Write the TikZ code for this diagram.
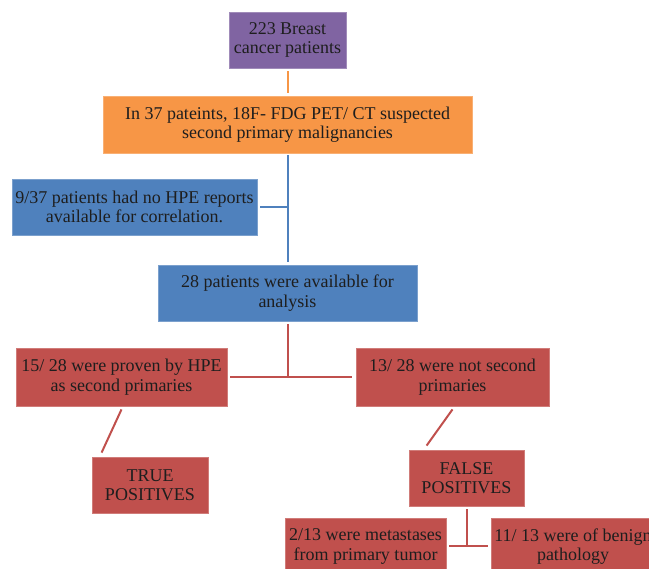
\documentclass[tikz,border=0pt]{standalone}
\usepackage{fontspec}
\setmainfont{Liberation Serif}
\newfontfamily\boxfont{Liberation Serif}
\definecolor{cpurple}{HTML}{8064A2}
\definecolor{corange}{HTML}{F79646}
\definecolor{cblue}{HTML}{4F81BD}
\definecolor{cred}{HTML}{C0504D}
\definecolor{ctext}{HTML}{1E1E1E}
\begin{document}
\begin{tikzpicture}[x=1pt,y=-1pt,
  box/.style={rectangle, inner sep=0pt, align=center, text=ctext, line width=0.8pt,
    font=\boxfont\fontsize{18}{19.5}\selectfont},
  pbox/.style={box, fill=cpurple, draw=cpurple!75!white},
  obox/.style={box, fill=corange, draw=corange!75!white},
  bbox/.style={box, fill=cblue, draw=cblue!75!white},
  rbox/.style={box, fill=cred, draw=cred!75!white},
  conn/.style={line width=2pt}]
\useasboundingbox (0,0) rectangle (649,569);
\clip (0,0) rectangle (649,569);
\node[pbox, minimum width=117pt, minimum height=56pt] (n1) at (287.5,40) {223 Breast\\cancer patients};
\node[obox, minimum width=369pt, minimum height=57pt] (n2) at (287.5,124.5) {In 37 pateints, 18F- FDG PET/ CT suspected\\second primary malignancies};
\node[bbox, minimum width=245pt, minimum height=56pt] (n3) at (134.5,207) {9/37 patients had no HPE reports\\available for correlation.};
\node[bbox, minimum width=259pt, minimum height=56pt] (n4) at (287.5,293) {28 patients were available for\\analysis};
\node[rbox, minimum width=211pt, minimum height=58pt] (n5) at (121.5,377) {15/ 28 were proven by HPE\\as second primaries};
\node[rbox, minimum width=193pt, minimum height=58pt] (n6) at (452.5,377) {13/ 28 were not second\\primaries};
\node[rbox, minimum width=116pt, minimum height=56pt] (n7) at (150,485) {TRUE\\POSITIVES};
\node[rbox, minimum width=115pt, minimum height=56pt] (n8) at (466.5,478) {FALSE\\POSITIVES};
\node[rbox, minimum width=161pt, minimum height=57pt] (n9) at (365.5,546.5) {2/13 were metastases\\from primary tumor};
\node[rbox, minimum width=164pt, minimum height=57pt] (n10) at (573,546.5) {11/ 13 were of benign\\pathology};
% connectors
\draw[conn, corange, shorten <=3pt, shorten >=3pt] (n1.south) -- (n2.north);
\draw[conn, cblue, shorten <=2pt, shorten >=3pt] (n2.south) -- (n4.north);
\coordinate (bj) at (n3.east -| n2.south);
\draw[conn, cblue, shorten <=3pt] (n3.east) -- (bj);
\coordinate (rj) at (n5.east -| n4.south);
\draw[conn, cred, shorten <=3pt] (n4.south) -- (rj);
\draw[conn, cred, shorten <=3pt, shorten >=4pt] (n5.east) -- (n6.west);
\draw[conn, cred] ([yshift=-3pt]n5.south) -- ([xshift=10pt,yshift=4pt]n7.north west);
\draw[conn, cred] ([yshift=-3pt]n6.south) -- ([xshift=18pt,yshift=4pt]n8.north west);
\coordinate (fj) at (n8.south |- n9.east);
\draw[conn, cred, shorten <=3pt] (n8.south) -- (fj);
\draw[conn, cred, shorten <=3pt, shorten >=3pt] (n9.east) -- (n10.west);
\end{tikzpicture}
\end{document}
